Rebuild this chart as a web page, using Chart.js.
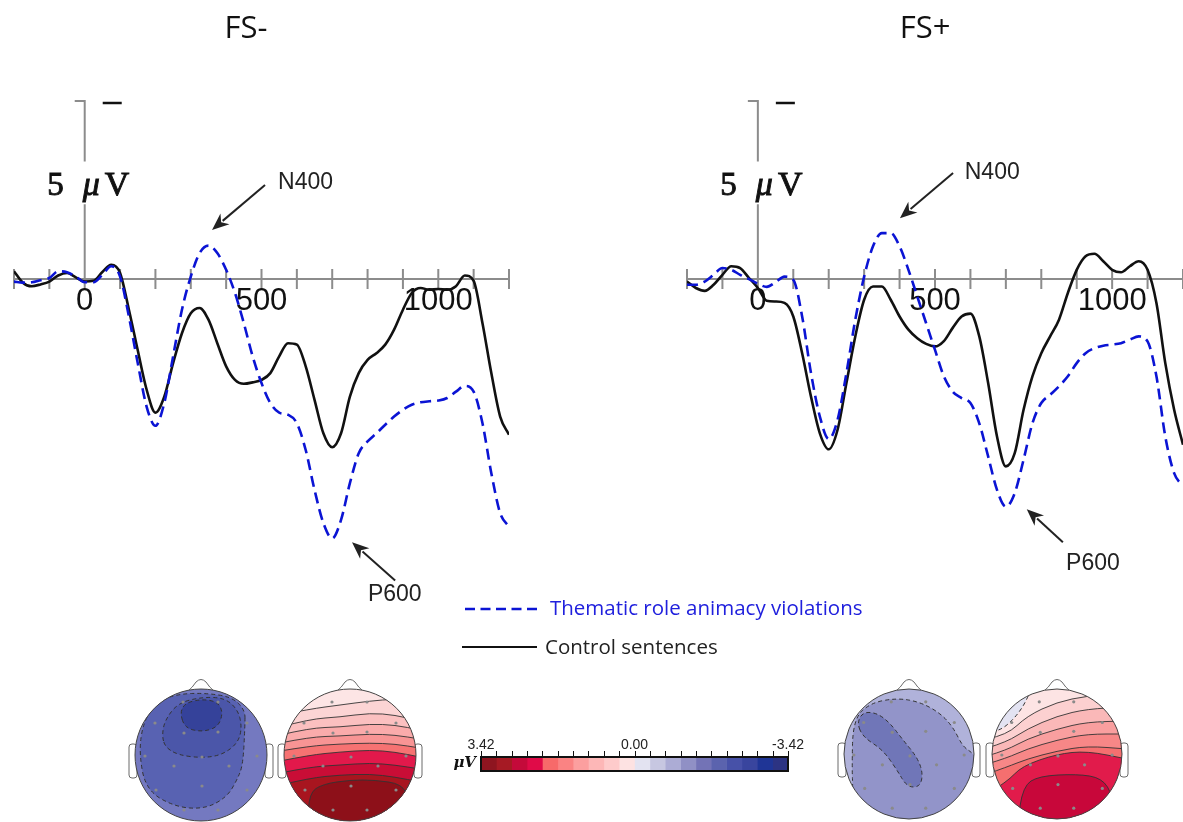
<!DOCTYPE html>
<html>
<head>
<meta charset="utf-8">
<script src="https://cdn.jsdelivr.net/npm/chart.js@4.4.1/dist/chart.umd.min.js"></script>
<style>
  html, body { margin: 0; padding: 0; background: #fff; }
  #wrap { position: relative; width: 1183px; height: 822px; overflow: hidden; }
  #wrap canvas { position: absolute; left: 0; top: 0; }
</style>
</head>
<body>
<div id="wrap">
  <canvas id="erpLeft" width="1183" height="822"></canvas>
  <canvas id="erpRight" width="1183" height="822"></canvas>
  <canvas id="scaleBar" width="1183" height="822"></canvas>
</div>
<script>
// time points (ms), 25 ms steps
const times = [-200, -175, -150, -125, -100, -75, -50, -25,
  0, 25, 50, 75, 100, 125, 150, 175,
  200, 225, 250, 275, 300, 325, 350, 375,
  400, 425, 450, 475, 500, 525, 550, 575,
  600, 625, 650, 675, 700, 725, 750, 775,
  800, 825, 850, 875, 900, 925, 950, 975,
  1000, 1025, 1050, 1075, 1100, 1125, 1150, 1175, 1200];

// FS- (microvolts, negative plotted up)
const violationLeft = [0.07, 0.1, 0.09, 0.03, -0.03, -0.22, -0.19, -0.07,
  0.09, 0.09, -0.12, -0.36, -0.07, 1.05, 2.36, 3.58,
  4.12, 3.48, 2.17, 0.86, -0.07, -0.73, -0.94, -0.73,
  -0.26, 0.39, 1.24, 2.17, 2.92, 3.48, 3.75, 3.81,
  4.05, 4.8, 5.92, 6.85, 7.28, 6.76, 5.73, 4.89,
  4.56, 4.33, 4.09, 3.86, 3.67, 3.53, 3.46, 3.43,
  3.41, 3.34, 3.16, 3.0, 3.16, 4.05, 5.45, 6.57, 6.95];
const controlLeft = [-0.22, 0.1, 0.2, 0.15, 0.07, -0.1, -0.17, -0.05,
  0.07, 0.05, -0.2, -0.4, -0.17, 0.86, 2.0, 3.1,
  3.75, 3.3, 2.36, 1.52, 0.96, 0.81, 1.14, 1.8,
  2.45, 2.83, 2.94, 2.9, 2.83, 2.64, 2.17, 1.8,
  1.84, 2.45, 3.39, 4.33, 4.72, 4.33, 3.3, 2.64,
  2.27, 2.08, 1.84, 1.42, 0.86, 0.39, 0.25, 0.3,
  0.28, 0.3, 0.2, -0.1, 0.05, 1.24, 2.64, 3.86, 4.37];

// FS+
const violationRight = [0.16, 0.16, 0.07, -0.12, -0.31, -0.26, -0.12, 0,
  0.13, 0.22, 0.09, -0.07, 0.02, 1.05, 2.64, 3.86,
  4.49, 3.95, 2.64, 1.14, -0.07, -0.92, -1.29, -1.29,
  -0.92, -0.26, 0.49, 1.24, 1.99, 2.73, 3.16, 3.34,
  3.48, 4.05, 4.98, 5.92, 6.39, 6.01, 5.07, 4.05,
  3.48, 3.25, 3.01, 2.73, 2.36, 2.08, 1.94, 1.87,
  1.84, 1.8, 1.7, 1.61, 1.75, 2.73, 4.42, 5.45, 5.82];
const controlRight = [0.07, 0.25, 0.33, 0.16, -0.12, -0.36, -0.31, -0.03,
  0.25, 0.61, 0.63, 0.67, 1.05, 2.08, 3.3, 4.33,
  4.78, 4.23, 2.92, 1.61, 0.58, 0.21, 0.21, 0.58,
  1.05, 1.42, 1.66, 1.82, 1.89, 1.74, 1.37, 1.05,
  0.97, 1.61, 2.92, 4.42, 5.26, 4.89, 3.67, 2.73,
  2.08, 1.61, 1.14, 0.39, -0.26, -0.64, -0.71, -0.5,
  -0.26, -0.19, -0.36, -0.5, -0.26, 0.67, 2.36, 3.67, 4.65];

const timeTicks = [-200, -100, 0, 100, 200, 300, 400, 500, 600, 700, 800, 900, 1000, 1100, 1200];
const timeTickLabels = [0, 500, 1000];

// topographic colour scale
const colorbarEdges = [3.42, 3.078, 2.736, 2.394, 2.052, 1.71, 1.368, 1.026, 0.684, 0.342, 0,
  -0.342, -0.684, -1.026, -1.368, -1.71, -2.052, -2.394, -2.736, -3.078, -3.42];
const colorbarColors = ['#8e1520', '#a61a24', '#c40a3a', '#e00b48', '#f76a6a', '#fa8383', '#fc9f9f', '#fdb7b7', '#fecbcb', '#fde2e2',
  '#e3e3f1', '#c7c7e1', '#acacd5', '#9090c5', '#7373b6', '#5b63ae', '#4751a8', '#39459e', '#1f3596', '#2c3383'];
const colorbarLabels = ['3.42', '0.00', '-3.42'];

const BLUE = '#0b14d4';
const SERIF = '"Liberation Serif", "DejaVu Serif", serif';

function drawArrow(ctx, x1, y1, x2, y2) {
  const a = Math.atan2(y2 - y1, x2 - x1);
  const L = 17, W = 7;
  ctx.beginPath();
  ctx.moveTo(x1, y1);
  ctx.lineTo(x2 - Math.cos(a) * (L - 3), y2 - Math.sin(a) * (L - 3));
  ctx.stroke();
  ctx.beginPath();
  ctx.moveTo(x2, y2);
  ctx.lineTo(x2 - Math.cos(a) * L - Math.sin(a) * W, y2 - Math.sin(a) * L + Math.cos(a) * W);
  ctx.lineTo(x2 - Math.cos(a) * (L - 5), y2 - Math.sin(a) * (L - 5));
  ctx.lineTo(x2 - Math.cos(a) * L + Math.sin(a) * W, y2 - Math.sin(a) * L - Math.cos(a) * W);
  ctx.closePath();
  ctx.fill();
}

// text with a slightly heavier stroke, like the scanned label
function heavyText(ctx, s, x, y) {
  ctx.fillText(s, x, y);
  ctx.strokeText(s, x, y);
}

function makeErpChart(id, cfg) {
  const pts = arr => times.map((t, i) => ({ x: t, y: arr[i] }));

  const decor = {
    id: 'erpDecor',
    beforeDatasetsDraw(chart) {
      const { ctx, scales: { x, y } } = chart;
      const x0 = x.getPixelForValue(0), y0 = y.getPixelForValue(0);
      const yTop = y.getPixelForValue(-5);
      ctx.save();
      ctx.strokeStyle = '#8c8c8c';
      ctx.lineWidth = 2;
      ctx.beginPath();
      ctx.moveTo(x.getPixelForValue(-200), y0);
      ctx.lineTo(x.getPixelForValue(1200), y0);
      timeTicks.forEach(t => {
        const px = x.getPixelForValue(t);
        ctx.moveTo(px, y0 - 10);
        ctx.lineTo(px, y0 + 10);
      });
      // amplitude bar, broken where the label sits
      ctx.moveTo(x0 - 10, yTop);
      ctx.lineTo(x0, yTop);
      ctx.lineTo(x0, y.getPixelForValue(-3.3));
      ctx.moveTo(x0, y.getPixelForValue(-2.1));
      ctx.lineTo(x0, y0);
      ctx.stroke();

      // negative-up marker
      ctx.strokeStyle = '#111';
      ctx.lineWidth = 2.5;
      ctx.beginPath();
      ctx.moveTo(x0 + 18, yTop + 2);
      ctx.lineTo(x0 + 37, yTop + 2);
      ctx.stroke();

      ctx.fillStyle = '#111';
      ctx.font = '31px "Liberation Sans", Arial, sans-serif';
      ctx.textAlign = 'center';
      ctx.textBaseline = 'alphabetic';
      timeTickLabels.forEach(t => ctx.fillText(String(t), x.getPixelForValue(t), y0 + 31));

      // 5 µV
      const yl = y.getPixelForValue(-2.35);
      ctx.strokeStyle = '#111';
      ctx.lineWidth = 0.9;
      ctx.font = '33px ' + SERIF;
      ctx.textAlign = 'right';
      heavyText(ctx, '5', x0 - 21, yl);
      ctx.textAlign = 'left';
      ctx.font = 'italic 34px ' + SERIF;
      heavyText(ctx, '\u03bc', x0 - 2, yl);
      const mw = ctx.measureText('\u03bc').width;
      ctx.font = '34px ' + SERIF;
      heavyText(ctx, 'V', x0 + 3 + mw, yl);
      ctx.restore();
    },
    afterDatasetsDraw(chart) {
      const { ctx, scales: { x, y } } = chart;
      ctx.save();
      ctx.fillStyle = '#111';
      ctx.font = '31px "Open Sans", sans-serif';
      ctx.textAlign = 'center';
      ctx.textBaseline = 'middle';
      ctx.fillText(cfg.title, cfg.titleX, 29);

      ctx.strokeStyle = '#222';
      ctx.fillStyle = '#222';
      ctx.lineWidth = 2;
      cfg.notes.forEach(n => {
        drawArrow(ctx, x.getPixelForValue(n.tail[0]), y.getPixelForValue(n.tail[1]),
          x.getPixelForValue(n.tip[0]), y.getPixelForValue(n.tip[1]));
        ctx.font = '23px "Liberation Sans", Arial, sans-serif';
        ctx.textAlign = 'left';
        ctx.textBaseline = 'middle';
        ctx.fillText(n.text, x.getPixelForValue(n.label[0]), y.getPixelForValue(n.label[1]));
      });
      ctx.restore();
    }
  };

  return new Chart(document.getElementById(id), {
    type: 'line',
    data: {
      datasets: [
        {
          label: 'Thematic role animacy violations',
          data: pts(cfg.violation),
          borderColor: BLUE,
          borderWidth: 2.6,
          borderDash: [11, 6],
          pointRadius: 0,
          cubicInterpolationMode: 'monotone',
          fill: false
        },
        {
          label: 'Control sentences',
          data: pts(cfg.control),
          borderColor: '#111',
          borderWidth: 2.6,
          pointRadius: 0,
          cubicInterpolationMode: 'monotone',
          fill: false
        }
      ]
    },
    options: {
      responsive: false,
      animation: false,
      events: [],
      layout: { padding: cfg.padding },
      plugins: { legend: { display: false }, tooltip: { enabled: false } },
      scales: {
        x: { type: 'linear', min: -200, max: 1200, display: false },
        y: { type: 'linear', min: -5, max: 8, reverse: true, display: false }
      }
    },
    plugins: [decor]
  });
}

makeErpChart('erpLeft', {
  title: 'FS-', titleX: 246,
  violation: violationLeft, control: controlLeft,
  padding: { left: 14, right: 674, top: 101, bottom: 258 },
  notes: [
    { text: 'N400', tip: [360, -1.38], tail: [510, -2.64], label: [547, -2.72] },
    { text: 'P600', tip: [756, 7.39], tail: [878, 8.46], label: [801, 8.85] }
  ]
});

makeErpChart('erpRight', {
  title: 'FS+', titleX: 925,
  violation: violationRight, control: controlRight,
  padding: { left: 687, right: 0, top: 101, bottom: 258 },
  notes: [
    { text: 'N400', tip: [401, -1.71], tail: [551, -2.98], label: [584, -3.0] },
    { text: 'P600', tip: [759, 6.46], tail: [861, 7.39], label: [870, 7.98] }
  ]
});

// ---- scalp maps (drawn decoration) ----
const electrodeSpots = [[-18, -53], [17, -53], [-46, -32], [46, -32], [-17, -22], [17, -23], [-56, 1], [1, 2], [56, 1],
  [-27, 11], [28, 11], [-45, 35], [1, 31], [46, 35], [-17, 55], [17, 55]];

const heads = [
  { cx: 201, cy: 755, r: 66, base: '#7479c0', ops: [
    { kind: 'blob', dash: true, color: '#5862b2', pts: [[44, -30], [42, 10], [36, 25], [26, 42], [4, 54], [-26, 52], [-55, 35], [-62, -2], [-58, -32], [-45, -53], [-23, -61], [4, -62], [31, -58], [44, -45]] },
    { kind: 'blob', dash: true, color: '#4b56a9', pts: [[-39, -20], [-36, -35], [-23, -52], [1, -58], [24, -57], [37, -45], [41, -28], [37, -12], [21, 0], [1, 3], [-23, 0], [-36, -8]] },
    { kind: 'blob', dash: true, color: '#35429a', pts: [[-21, -42], [-16, -52], [1, -56], [17, -53], [22, -42], [17, -28], [1, -23], [-16, -27]] }
  ] },
  { cx: 350, cy: 755, r: 66, base: '#fde5e5', ops: [
    { kind: 'band', color: '#fcd4d4', pts: [[-70, -40], [-40, -46], [-10, -50], [20, -54], [45, -56], [70, -55]] },
    { kind: 'band', color: '#fbc0c0', pts: [[-70, -28], [-40, -36], [-10, -38], [20, -42], [45, -40], [70, -34]] },
    { kind: 'band', color: '#faabab', pts: [[-70, -20], [-40, -27], [-10, -28], [20, -31], [45, -30], [70, -25]] },
    { kind: 'band', color: '#f89494', pts: [[-70, -12], [-40, -18], [-10, -19], [20, -21], [45, -20], [70, -16]] },
    { kind: 'band', color: '#f67272', pts: [[-70, -4], [-40, -9], [-10, -11], [20, -12], [45, -11], [70, -7]] },
    { kind: 'band', color: '#e2194b', pts: [[-70, 6], [-40, 0], [-10, -3], [20, -5], [45, -3], [70, 2]] },
    { kind: 'band', color: '#c90d36', pts: [[-70, 18], [-40, 12], [-10, 10], [20, 8], [45, 10], [70, 14]] },
    { kind: 'band', color: '#a8151f', pts: [[-70, 30], [-40, 23], [-10, 20], [20, 19], [45, 22], [70, 27]] },
    { kind: 'blob', color: '#8d1019', pts: [[-42, 72], [-41, 38], [-27, 29], [0, 25], [25, 25], [52, 29], [59, 45], [59, 72]] }
  ] },
  { cx: 909, cy: 754, r: 65, base: '#b0b2da', ops: [
    { kind: 'blob', dash: true, color: '#9294c9', pts: [[-56, 36], [-57, 16], [-56, -34], [-39, -51], [-12, -56], [11, -52], [31, -41], [44, -27], [54, -7], [64, -1], [80, 20], [60, 90], [-30, 90], [-60, 60]] },
    { kind: 'blob', dash: true, color: '#7076b8', pts: [[-52, -31], [-46, -42], [-32, -41], [-19, -31], [-6, -14], [8, 3], [14, 19], [11, 33], [-2, 33], [-12, 16], [-26, -4], [-46, -17]] }
  ] },
  { cx: 1057, cy: 754, r: 65, base: '#fde4e4', ops: [
    { kind: 'band', color: '#fcd0d0', pts: [[-70, -15], [-50, -19], [-30, -38], [0, -52], [30, -58], [70, -62]] },
    { kind: 'band', color: '#fab8b8', pts: [[-70, -6], [-50, -12], [-30, -25], [0, -38], [30, -45], [70, -47]] },
    { kind: 'band', color: '#f99f9f', pts: [[-70, 2], [-50, -4], [-30, -15], [0, -25], [30, -32], [70, -33]] },
    { kind: 'band', color: '#f78787', pts: [[-70, 10], [-50, 4], [-30, -5], [0, -14], [30, -20], [70, -20]] },
    { kind: 'band', color: '#f56f6f', pts: [[-70, 20], [-50, 13], [-30, 5], [0, -3], [30, -8], [70, -5]] },
    { kind: 'band', color: '#e11b4b', pts: [[-70, 40], [-50, 28], [-35, 12], [0, 0], [30, -3], [70, 5]] },
    { kind: 'blob', color: '#c8073a', pts: [[-40, 72], [-34, 32], [-18, 22], [20, 20], [45, 24], [56, 42], [56, 72]] },
    { kind: 'blob', dash: true, color: '#e3e3f2', pts: [[-80, -80], [-80, -22], [-58, -22], [-40, -38], [-28, -58], [-22, -80]] }
  ] }
];

function mid(a, b) { return [(a[0] + b[0]) / 2, (a[1] + b[1]) / 2]; }

function pathClosed(ctx, cx, cy, p) {
  const n = p.length;
  const s = mid(p[n - 1], p[0]);
  ctx.beginPath();
  ctx.moveTo(cx + s[0], cy + s[1]);
  for (let i = 0; i < n; i++) {
    const m = mid(p[i], p[(i + 1) % n]);
    ctx.quadraticCurveTo(cx + p[i][0], cy + p[i][1], cx + m[0], cy + m[1]);
  }
  ctx.closePath();
}

function pathOpen(ctx, cx, cy, p) {
  ctx.moveTo(cx + p[0][0], cy + p[0][1]);
  for (let i = 1; i < p.length - 1; i++) {
    const m = mid(p[i], p[i + 1]);
    ctx.quadraticCurveTo(cx + p[i][0], cy + p[i][1], cx + m[0], cy + m[1]);
  }
  ctx.lineTo(cx + p[p.length - 1][0], cy + p[p.length - 1][1]);
}

function drawHead(ctx, h) {
  const { cx, cy, r } = h;
  ctx.save();
  ctx.strokeStyle = '#6a6a6a';
  ctx.lineWidth = 1;
  ctx.fillStyle = '#fff';
  // ears
  [-1, 1].forEach(s => {
    const ex = s < 0 ? cx - r - 6 : cx + r - 2;
    ctx.beginPath();
    ctx.roundRect(ex, cy - 11, 8, 34, 3);
    ctx.fill();
    ctx.stroke();
  });
  // nose
  ctx.beginPath();
  ctx.moveTo(cx - 14, cy - r + 3);
  ctx.quadraticCurveTo(cx - 8, cy - r - 2, cx - 5, cy - r - 7);
  ctx.quadraticCurveTo(cx, cy - r - 12, cx + 5, cy - r - 7);
  ctx.quadraticCurveTo(cx + 8, cy - r - 2, cx + 14, cy - r + 3);
  ctx.stroke();

  ctx.beginPath();
  ctx.arc(cx, cy, r, 0, Math.PI * 2);
  ctx.fillStyle = h.base;
  ctx.fill();
  ctx.save();
  ctx.clip();
  h.ops.forEach(op => {
    ctx.fillStyle = op.color;
    ctx.strokeStyle = '#333';
    ctx.lineWidth = op.dash ? 1 : 0.9;
    ctx.setLineDash(op.dash ? [4, 3] : []);
    if (op.kind === 'band') {
      ctx.beginPath();
      pathOpen(ctx, cx, cy, op.pts);
      ctx.lineTo(cx + 80, cy + 80);
      ctx.lineTo(cx - 80, cy + 80);
      ctx.closePath();
      ctx.fill();
      ctx.beginPath();
      pathOpen(ctx, cx, cy, op.pts);
      ctx.stroke();
    } else {
      pathClosed(ctx, cx, cy, op.pts);
      ctx.fill();
      ctx.stroke();
    }
  });
  ctx.setLineDash([]);
  ctx.fillStyle = '#8a8a8a';
  electrodeSpots.forEach(e => {
    ctx.beginPath();
    ctx.arc(cx + e[0] * r / 66, cy + e[1] * r / 66, 1.6, 0, Math.PI * 2);
    ctx.fill();
  });
  ctx.restore();
  ctx.beginPath();
  ctx.arc(cx, cy, r, 0, Math.PI * 2);
  ctx.strokeStyle = '#444';
  ctx.lineWidth = 1;
  ctx.stroke();
  ctx.restore();
}

const scaleDecor = {
  id: 'scaleDecor',
  afterDatasetsDraw(chart) {
    const { ctx, chartArea: a, scales: { x } } = chart;
    ctx.save();
    ctx.strokeStyle = '#111';
    ctx.lineWidth = 2;
    ctx.strokeRect(a.left, a.top, a.right - a.left, a.bottom - a.top);
    ctx.lineWidth = 1;
    ctx.beginPath();
    colorbarEdges.forEach(v => {
      const px = Math.round(x.getPixelForValue(v)) + 0.5;
      ctx.moveTo(px, a.top - 6);
      ctx.lineTo(px, a.top);
    });
    ctx.stroke();
    ctx.fillStyle = '#222';
    ctx.font = '14px "Liberation Sans", Arial, sans-serif';
    ctx.textAlign = 'center';
    ctx.textBaseline = 'middle';
    colorbarLabels.forEach(l => ctx.fillText(l, x.getPixelForValue(parseFloat(l)), a.top - 12));
    ctx.font = 'bold italic 15px "DejaVu Serif", serif';
    ctx.textAlign = 'right';
    ctx.fillStyle = '#111';
    ctx.fillText('\u03bcV', a.left - 5, a.top + 6);

    heads.forEach(h => drawHead(ctx, h));

    // legend
    ctx.lineWidth = 2.5;
    ctx.strokeStyle = BLUE;
    ctx.setLineDash([10, 5.5]);
    ctx.beginPath();
    ctx.moveTo(465, 609);
    ctx.lineTo(537, 609);
    ctx.stroke();
    ctx.setLineDash([]);
    ctx.strokeStyle = '#111';
    ctx.lineWidth = 2.2;
    ctx.beginPath();
    ctx.moveTo(462, 647);
    ctx.lineTo(537, 647);
    ctx.stroke();
    ctx.font = '20.5px "Open Sans", sans-serif';
    ctx.textAlign = 'left';
    ctx.textBaseline = 'middle';
    ctx.fillStyle = '#2020dd';
    ctx.fillText('Thematic role animacy violations', 550, 609);
    ctx.fillStyle = '#222';
    ctx.fillText('Control sentences', 545, 648);
    ctx.restore();
  }
};

new Chart(document.getElementById('scaleBar'), {
  type: 'bar',
  data: {
    labels: ['\u03bcV'],
    datasets: colorbarColors.map((c, i) => ({
      data: [[colorbarEdges[i], colorbarEdges[i + 1]]],
      backgroundColor: c,
      borderWidth: 0,
      barPercentage: 1,
      categoryPercentage: 1,
      grouped: false
    }))
  },
  options: {
    indexAxis: 'y',
    responsive: false,
    animation: false,
    events: [],
    layout: { padding: { left: 481, right: 395, top: 757, bottom: 51 } },
    plugins: { legend: { display: false }, tooltip: { enabled: false } },
    scales: {
      x: { type: 'linear', min: -3.42, max: 3.42, reverse: true, display: false },
      y: { display: false }
    }
  },
  plugins: [scaleDecor]
});
</script>
</body>
</html>
